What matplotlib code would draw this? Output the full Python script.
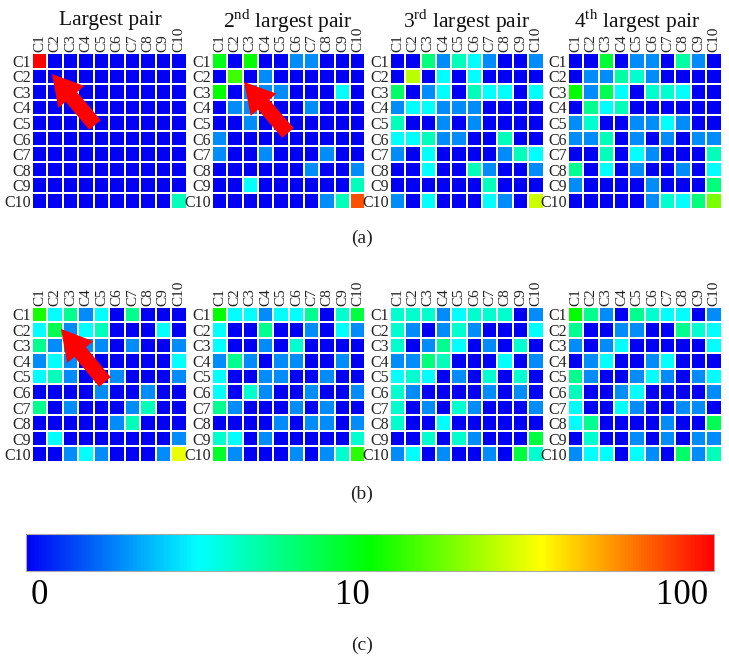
import matplotlib
matplotlib.use('Agg')
import matplotlib.pyplot as plt
from matplotlib.colors import LinearSegmentedColormap, Normalize
from matplotlib.cm import ScalarMappable

plt.rcParams['font.family'] = ['Liberation Serif', 'DejaVu Serif']
plt.rcParams['mathtext.fontset'] = 'custom'
plt.rcParams['mathtext.rm'] = 'Liberation Serif'

W, H = 729, 665

names = ['C1', 'C2', 'C3', 'C4', 'C5', 'C6', 'C7', 'C8', 'C9', 'C10']
titles = ['Largest pair', '2$^{\\mathrm{nd}}$ largest pair',
          '3$^{\\mathrm{rd}}$ largest pair', '4$^{\\mathrm{th}}$ largest pair']
bar_ticks = [2, 47.5, 95.4]
bar_labels = ['0', '10', '100']

# cell values are positions on the colour bar, 0 to 100
a1 = [[100, 0, 0, 0, 0, 0, 0, 0, 0, 0],
      [0, 0, 0, 0, 0, 0, 0, 0, 0, 0],
      [0, 0, 0, 0, 0, 0, 0, 0, 0, 0],
      [0, 0, 0, 0, 0, 0, 0, 0, 0, 0],
      [0, 0, 0, 0, 0, 0, 0, 0, 0, 0],
      [0, 0, 0, 0, 0, 0, 0, 0, 0, 0],
      [0, 0, 0, 0, 0, 0, 0, 0, 0, 0],
      [0, 0, 0, 0, 0, 0, 0, 0, 0, 0],
      [0, 0, 0, 0, 0, 0, 0, 0, 0, 0],
      [0, 0, 0, 0, 0, 0, 0, 0, 0, 32]]
a2 = [[48, 0, 50, 0, 0, 14, 14, 0, 0, 0],
      [0, 56, 0, 14, 0, 0, 0, 0, 0, 0],
      [50, 0, 14, 14, 14, 0, 0, 0, 25, 0],
      [0, 14, 14, 0, 0, 0, 14, 0, 0, 0],
      [0, 0, 14, 0, 0, 0, 0, 0, 0, 0],
      [14, 0, 0, 0, 0, 0, 0, 0, 0, 0],
      [14, 0, 0, 14, 0, 0, 0, 14, 0, 0],
      [0, 0, 0, 0, 0, 0, 14, 0, 0, 14],
      [0, 0, 25, 0, 0, 0, 0, 0, 0, 32],
      [0, 0, 0, 0, 0, 0, 0, 14, 32, 92]]
a3 = [[0, 0, 38, 14, 32, 25, 14, 0, 0, 14],
      [0, 68, 0, 25, 0, 25, 0, 0, 0, 0],
      [40, 0, 14, 25, 0, 32, 25, 25, 0, 25],
      [14, 25, 25, 14, 14, 14, 0, 0, 0, 0],
      [32, 0, 0, 14, 0, 14, 0, 0, 0, 0],
      [25, 25, 32, 14, 14, 0, 0, 32, 0, 0],
      [14, 0, 25, 0, 0, 0, 0, 14, 32, 25],
      [0, 0, 25, 0, 0, 32, 14, 0, 0, 14],
      [0, 0, 0, 0, 0, 0, 32, 0, 0, 0],
      [14, 0, 25, 0, 0, 0, 25, 14, 0, 70]]
a4 = [[0, 0, 45, 0, 14, 14, 0, 34, 14, 0],
      [0, 14, 14, 34, 30, 14, 0, 0, 0, 0],
      [50, 14, 42, 25, 0, 30, 30, 25, 0, 0],
      [0, 36, 25, 32, 0, 0, 0, 0, 0, 0],
      [14, 30, 0, 0, 14, 14, 25, 14, 0, 0],
      [14, 14, 32, 0, 14, 0, 14, 0, 14, 14],
      [0, 0, 32, 0, 25, 14, 0, 0, 0, 32],
      [36, 0, 25, 0, 14, 0, 0, 14, 0, 25],
      [14, 0, 0, 0, 0, 14, 0, 0, 0, 38],
      [0, 0, 0, 0, 0, 14, 30, 25, 38, 62]]
b1 = [[52, 25, 36, 14, 25, 0, 36, 0, 0, 0],
      [25, 42, 14, 25, 32, 0, 0, 0, 25, 0],
      [36, 14, 14, 14, 14, 0, 14, 0, 0, 14],
      [14, 25, 14, 0, 0, 0, 0, 0, 0, 25],
      [25, 32, 14, 0, 0, 14, 0, 0, 0, 14],
      [0, 0, 0, 0, 14, 0, 0, 14, 0, 0],
      [36, 0, 14, 0, 0, 0, 14, 32, 0, 0],
      [0, 0, 0, 0, 0, 14, 32, 0, 0, 0],
      [0, 25, 0, 0, 0, 0, 0, 0, 0, 14],
      [0, 0, 14, 25, 14, 0, 0, 0, 14, 73]]
b2 = [[50, 25, 25, 14, 25, 25, 36, 0, 30, 44],
      [25, 0, 0, 36, 0, 0, 14, 0, 25, 14],
      [25, 0, 0, 14, 0, 30, 0, 0, 0, 0],
      [14, 36, 14, 0, 14, 14, 0, 0, 14, 0],
      [25, 0, 0, 14, 14, 0, 0, 14, 0, 0],
      [25, 0, 30, 14, 0, 0, 14, 0, 0, 14],
      [36, 14, 0, 0, 0, 14, 0, 14, 0, 0],
      [0, 0, 0, 0, 14, 0, 14, 14, 0, 14],
      [30, 25, 0, 14, 0, 0, 0, 0, 0, 30],
      [46, 14, 0, 0, 0, 14, 0, 14, 30, 54]]
b3 = [[30, 30, 30, 14, 25, 30, 30, 30, 0, 14],
      [30, 14, 0, 14, 30, 14, 0, 0, 0, 25],
      [30, 0, 14, 36, 25, 0, 14, 0, 30, 0],
      [14, 14, 38, 32, 0, 0, 0, 25, 0, 14],
      [25, 30, 25, 0, 14, 0, 30, 0, 30, 0],
      [30, 14, 0, 0, 0, 0, 14, 0, 14, 0],
      [30, 0, 14, 0, 30, 14, 0, 0, 0, 14],
      [30, 0, 0, 25, 0, 0, 0, 0, 0, 0],
      [0, 0, 30, 0, 30, 14, 0, 0, 0, 44],
      [14, 25, 0, 14, 0, 0, 14, 0, 44, 30]]
b4 = [[50, 36, 14, 0, 36, 30, 25, 25, 0, 14],
      [36, 0, 0, 14, 14, 0, 0, 36, 30, 25],
      [14, 0, 14, 25, 0, 0, 0, 0, 0, 25],
      [0, 14, 25, 0, 0, 14, 25, 0, 0, 0],
      [36, 14, 0, 0, 14, 25, 14, 0, 14, 25],
      [32, 0, 0, 14, 25, 0, 0, 0, 0, 14],
      [25, 0, 0, 25, 14, 0, 0, 14, 14, 0],
      [25, 36, 0, 0, 0, 0, 14, 0, 0, 42],
      [0, 30, 0, 0, 14, 0, 14, 0, 14, 14],
      [14, 25, 25, 0, 25, 14, 0, 40, 14, 32]]

cmap = LinearSegmentedColormap.from_list(
    'bar', ['#0000f5', '#00ffff', '#00ff00', '#ffff00', '#ff0000'])
norm = Normalize(0, 100)


def px_axes(x0, y0, x1, y1):
    # axes from pixel box, y counted from the top of the picture
    return fig.add_axes([x0 / W, 1 - y1 / H, (x1 - x0) / W, (y1 - y0) / H])


fig = plt.figure(figsize=(W / 100, H / 100), dpi=100)

panel_x = [(32, 186.5), (212, 365.5), (390, 543.5), (568, 721.5)]
rows = [((53, 208.5), [a1, a2, a3, a4]), ((306.5, 462), [b1, b2, b3, b4])]

for (y0, y1), grids in rows:
    for (x0, x1), grid in zip(panel_x, grids):
        ax = px_axes(x0, y0, x1, y1)
        ax.pcolormesh(grid, cmap=cmap, norm=norm, edgecolors='white', linewidth=1.3)
        ax.set_xlim(0, 10)
        ax.set_ylim(10, 0)
        ax.set_xticks([i + 0.5 for i in range(10)])
        ax.set_yticks([i + 0.5 for i in range(10)])
        ax.set_xticklabels(names, rotation=90, fontsize=11, color='#222222')
        ax.set_yticklabels(names, fontsize=11.5, color='#222222')
        ax.xaxis.tick_top()
        ax.tick_params(length=0, pad=0.5)
        for s in ax.spines.values():
            s.set_visible(False)

# overlay in picture pixels for titles, captions and arrows
over = fig.add_axes([0, 0, 1, 1], zorder=5)
over.set_xlim(0, W)
over.set_ylim(H, 0)
over.axis('off')

for tx, t in zip([110, 288, 467, 637], titles):
    over.text(tx, 21, t, ha='center', va='center', fontsize=15.5, color='#111111')
for ty, t in zip([238, 494, 645], ['(a)', '(b)', '(c)']):
    over.text(362, ty, t, ha='center', va='center', fontsize=14, color='#222222')

arrows = [(95, 125, 52, 74), (288, 133, 244, 82), (105, 382, 61, 329)]
for x0, y0, x1, y1 in arrows:
    over.arrow(x0, y0, x1 - x0, y1 - y0, width=15, head_width=34, head_length=30,
               length_includes_head=True, facecolor='#ff0000', edgecolor='none')

# colour bar
cax = px_axes(25.5, 534, 714, 571)
cb = fig.colorbar(ScalarMappable(norm=norm, cmap=cmap), cax=cax, orientation='horizontal')
cb.set_ticks(bar_ticks)
cb.set_ticklabels(bar_labels)
cb.ax.tick_params(length=0, pad=6, labelsize=25)
cb.outline.set_edgecolor('#aaaaaa')
cb.outline.set_linewidth(0.8)

plt.savefig('out.png', dpi=100)
